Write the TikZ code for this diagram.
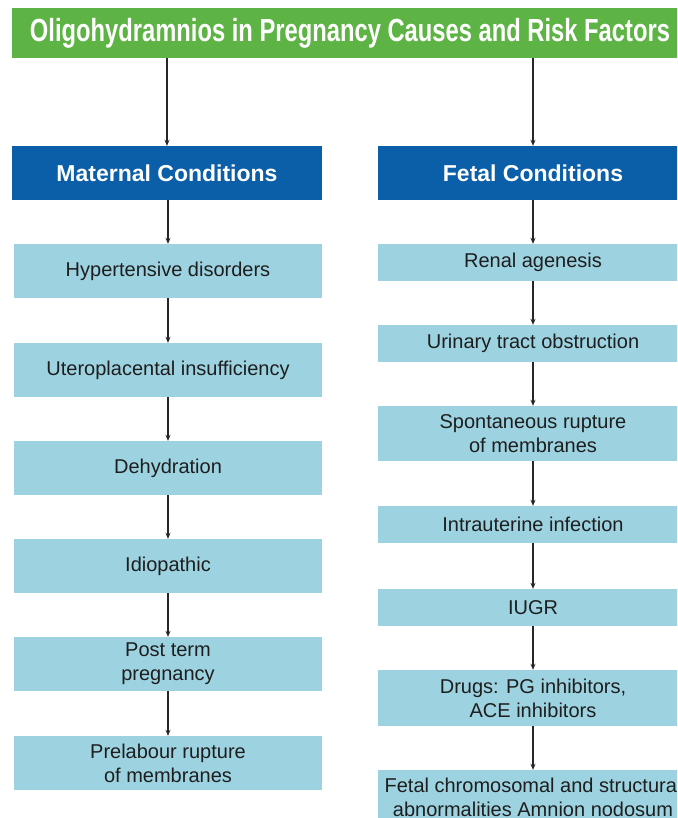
\documentclass[tikz,border=0pt]{standalone}
\usepackage{graphicx}
\usepackage{fontspec}
\setmainfont{Liberation Sans}
\usetikzlibrary{arrows.meta}
\definecolor{titlegreen}{HTML}{5DB344}
\definecolor{headblue}{HTML}{0B5EA8}
\definecolor{boxblue}{HTML}{9DD3E1}
\definecolor{txt}{HTML}{1E1E1E}
\tikzset{
  box/.style={fill=boxblue, inner sep=0pt, text=txt, align=center,
    font=\fontsize{20}{24}\selectfont},
  lbox/.style={box, minimum width=308pt, minimum height=54pt},
  rbox/.style={box, minimum width=310pt},
  head/.style={fill=headblue, text=white, inner sep=0pt,
    minimum width=310pt, minimum height=54pt,
    font=\bfseries\fontsize{23}{26}\selectfont},
  arr/.style={-{Stealth[length=6pt,width=5pt]}, line width=1.1pt, black!85}
}
\begin{document}
\begin{tikzpicture}[x=1pt,y=-1pt]
\useasboundingbox (0,0) rectangle (677,818);
\clip (0,0) rectangle (677,818);
\fill[white] (0,0) rectangle (677,818);
% title
\node[fill=titlegreen, minimum width=680pt, minimum height=50pt, inner sep=0pt, anchor=north west] (title) at (12,8) {};
\node[text=white, anchor=base, inner sep=0pt, font=\bfseries\fontsize{32}{32}\selectfont] (titletext) at (350,42)
  {\resizebox{640pt}{\height}{Oligohydramnios in Pregnancy Causes and Risk Factors}};
% headings
\node[head] (mat) at (167,173) {Maternal Conditions};
\node[head] (fet) at (533,173) {Fetal Conditions};
% left column
\node[lbox] (m1) at (168,271) {Hypertensive disorders};
\node[lbox] (m2) at (168,370) {Uteroplacental insufficiency};
\node[lbox] (m3) at (168,468) {Dehydration};
\node[lbox] (m4) at (168,566) {Idiopathic};
\node[lbox] (m5) at (168,664) {Post term\\pregnancy};
\node[lbox] (m6) at (168,763) {Prelabour rupture\\of membranes};
% right column
\node[rbox, minimum height=37pt] (f1) at (533,262.5) {Renal agenesis};
\node[rbox, minimum height=37pt] (f2) at (533,343.5) {Urinary tract obstruction};
\node[rbox, minimum height=55pt] (f3) at (533,433.5) {Spontaneous rupture\\of membranes};
\node[rbox, minimum height=37pt] (f4) at (533,524.5) {Intrauterine infection};
\node[rbox, minimum height=37pt] (f5) at (533,607.5) {IUGR};
\node[rbox, minimum height=56pt] (f6) at (533,698) {Drugs: PG inhibitors,\\ACE inhibitors};
\node[rbox, minimum height=54pt] (f7) at (533,797) {Fetal chromosomal and structural\\abnormalities Amnion nodosum};
% connectors
\draw[arr] (title.south -| mat.north) -- (mat.north);
\draw[arr] (title.south -| fet.north) -- (fet.north);
\draw[arr] (mat.south -| m1.north) -- (m1.north);
\draw[arr] (m1) -- (m2);
\draw[arr] (m2) -- (m3);
\draw[arr] (m3) -- (m4);
\draw[arr] (m4) -- (m5);
\draw[arr] (m5) -- (m6);
\draw[arr] (fet) -- (f1);
\draw[arr] (f1) -- (f2);
\draw[arr] (f2) -- (f3);
\draw[arr] (f3) -- (f4);
\draw[arr] (f4) -- (f5);
\draw[arr] (f5) -- (f6);
\draw[arr] (f6) -- (f7);
\end{tikzpicture}
\end{document}
